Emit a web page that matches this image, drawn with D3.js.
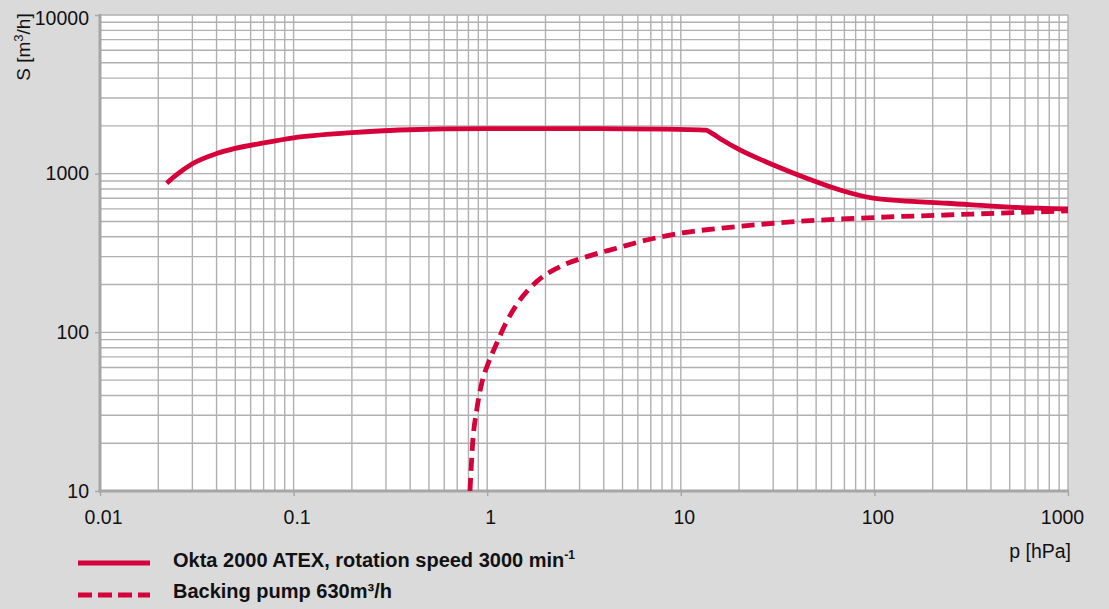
<!DOCTYPE html>
<html>
<head>
<meta charset="utf-8">
<script src="https://cdn.jsdelivr.net/npm/d3@7"></script>
<style>
  html, body { margin: 0; padding: 0; background: #dadada; }
  svg { display: block; font-family: "Liberation Sans", Arial, sans-serif; }
  .grid line { stroke: #b0b0b0; stroke-width: 1.4; }
  .legend-label { font-size: 20px; font-weight: bold; fill: #111; }
</style>
</head>
<body>
<svg id="chart" width="1109" height="609"></svg>
<script>
// Pumping speed chart — log/log, pressure vs. speed.

// ─── Data ──────────────────────────────────────────────────────────────────
const xTickValues = [0.01, 0.1, 1, 10, 100, 1000];
const xTickLabels = ['0.01', '0.1', '1', '10', '100', '1000'];
const yTickValues = [10, 100, 1000, 10000];
const yTickLabels = ['10', '100', '1000', '10000'];

// Okta 2000 ATEX (solid)
const pumpP = [0.0221, 0.025, 0.03, 0.04, 0.05, 0.07, 0.1, 0.2, 0.35, 1.0, 3.8, 12.5, 13.5, 14.5, 16.4, 20.2, 30.1, 44.7, 66.4, 98.6, 135, 236, 520, 1000];
const pumpS = [870, 989, 1155, 1339, 1443, 1563, 1683, 1813, 1885, 1925, 1920, 1890, 1880, 1795, 1631, 1410, 1135, 935, 789, 700, 676, 651, 614, 599];

// Backing pump 630 m³/h (dashed)
const backP = [0.815, 0.841, 0.883, 0.937, 1.013, 1.12, 1.26, 1.477, 1.80, 2.377, 3.27, 4.66, 6.67, 9.9, 17.9, 30.1, 107, 236, 520, 1000];
const backS = [10, 20, 32.4, 47.8, 63.9, 85.3, 116.8, 160, 208.8, 259, 300, 339, 382, 421, 459, 487, 531, 549, 568, 582];

// ─── Layout ────────────────────────────────────────────────────────────────
const M = { left: 100, right: 1068, top: 15, bottom: 491 };
const RED = '#d6003b';
const FONT = '"Liberation Sans", Arial, sans-serif';

const svg = d3.select('#chart');

const x = d3.scaleLog().domain([0.01, 1000]).range([M.left, M.right]);
const y = d3.scaleLog().domain([10, 10000]).range([M.bottom, M.top]);

// plot background
svg.append('rect')
  .attr('x', M.left).attr('y', M.top)
  .attr('width', M.right - M.left).attr('height', M.bottom - M.top)
  .attr('fill', '#fff');

// ─── Grid ──────────────────────────────────────────────────────────────────
const grid = svg.append('g').attr('class', 'grid');
grid.selectAll('line.v')
  .data(x.ticks())
  .join('line')
    .attr('class', 'v')
    .attr('x1', d => x(d)).attr('x2', d => x(d))
    .attr('y1', M.top).attr('y2', M.bottom);
grid.selectAll('line.h')
  .data(y.ticks())
  .join('line')
    .attr('class', 'h')
    .attr('y1', d => y(d)).attr('y2', d => y(d))
    .attr('x1', M.left).attr('x2', M.right);

// axis frame lines (left + bottom heavier)
svg.append('line')
  .attr('x1', M.left).attr('x2', M.left)
  .attr('y1', M.top - 1).attr('y2', M.bottom + 1.5)
  .attr('stroke', '#a6a6a6').attr('stroke-width', 3);
svg.append('line')
  .attr('x1', M.left - 1.5).attr('x2', M.right + 1)
  .attr('y1', M.bottom).attr('y2', M.bottom)
  .attr('stroke', '#a6a6a6').attr('stroke-width', 3);

// ─── Axes ──────────────────────────────────────────────────────────────────
const xAxis = d3.axisBottom(x)
  .tickValues(xTickValues)
  .tickFormat((d, i) => xTickLabels[i])
  .tickSize(4).tickPadding(14);
const gx = svg.append('g')
  .attr('transform', `translate(0,${M.bottom + 1})`)
  .call(xAxis)
  .attr('font-family', FONT).attr('font-size', 19.5);
gx.select('.domain').remove();
gx.selectAll('line').attr('stroke', '#a6a6a6').attr('stroke-width', 1.4);
gx.selectAll('text').attr('fill', '#111')
  .attr('dx', (d, i) => i === xTickValues.length - 1 ? -6 : 3);

const yAxis = d3.axisLeft(y)
  .tickValues(yTickValues)
  .tickFormat((d, i) => yTickLabels[i])
  .tickSize(4).tickPadding(6);
const gy = svg.append('g')
  .attr('transform', `translate(${M.left - 1},0)`)
  .call(yAxis)
  .attr('font-family', FONT).attr('font-size', 19.5);
gy.select('.domain').remove();
gy.selectAll('line').attr('stroke', '#a6a6a6').attr('stroke-width', 1.4);
gy.selectAll('text').attr('fill', '#111')
  .attr('dy', (d, i) => i === yTickValues.length - 1 ? '0.5em' : '0.32em');

// axis titles
const yt = svg.append('text')
  .attr('transform', 'translate(30,47) rotate(-90)')
  .attr('text-anchor', 'middle')
  .attr('font-size', 19)
  .attr('fill', '#111');
yt.append('tspan').text('S [m');
yt.append('tspan').attr('font-size', 13).attr('dy', -7).text('3');
yt.append('tspan').attr('dy', 7).text('/h]');

svg.append('text')
  .attr('x', 1071).attr('y', 558)
  .attr('text-anchor', 'end')
  .attr('font-size', 19.5)
  .attr('fill', '#111')
  .text('p [hPa]');

// ─── Curves ────────────────────────────────────────────────────────────────
const line = d3.line()
  .x(d => x(d[0]))
  .y(d => y(d[1]))
  .curve(d3.curveMonotoneX);

svg.append('path')
  .datum(d3.zip(pumpP, pumpS))
  .attr('d', line)
  .attr('fill', 'none')
  .attr('stroke', RED)
  .attr('stroke-width', 4.8);

svg.append('path')
  .datum(d3.zip(backP, backS))
  .attr('d', line)
  .attr('fill', 'none')
  .attr('stroke', RED)
  .attr('stroke-width', 4.8)
  .attr('stroke-dasharray', '13 7');

// ─── Legend ────────────────────────────────────────────────────────────────
svg.append('line')
  .attr('x1', 78).attr('x2', 150).attr('y1', 563).attr('y2', 563)
  .attr('stroke', RED).attr('stroke-width', 5);
svg.append('line')
  .attr('x1', 78).attr('x2', 150).attr('y1', 595).attr('y2', 595)
  .attr('stroke', RED).attr('stroke-width', 5)
  .attr('stroke-dasharray', '14 6');

const l1 = svg.append('text')
  .attr('class', 'legend-label')
  .attr('x', 173).attr('y', 567);
l1.append('tspan').text('Okta 2000 ATEX, rotation speed 3000 min');
l1.append('tspan').attr('font-size', 12).attr('dy', -8).text('-1');

svg.append('text')
  .attr('class', 'legend-label')
  .attr('x', 173).attr('y', 598)
  .text('Backing pump 630m³/h');
</script>
</body>
</html>
